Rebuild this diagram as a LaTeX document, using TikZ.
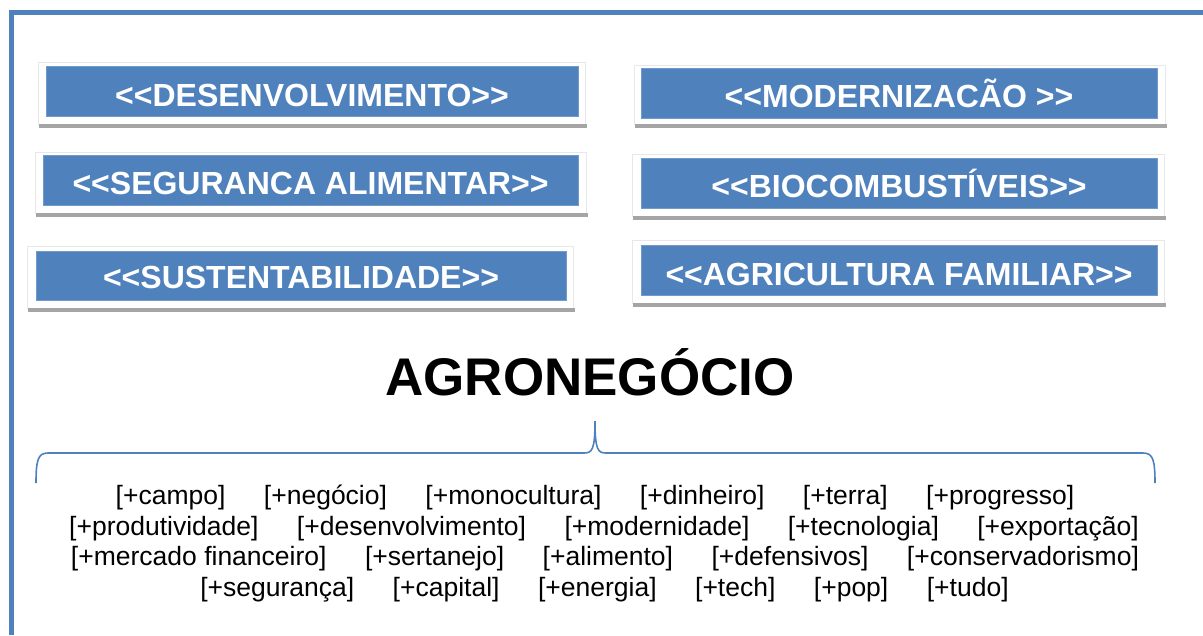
\documentclass[tikz,border=0pt]{standalone}
\usepackage{fontspec}
\usepackage{graphicx}
\newfontfamily\arialf{Liberation Sans}
\definecolor{officeblue}{HTML}{4F81BD}
\definecolor{shadowgray}{HTML}{A5A5A5}
\definecolor{edgegray}{HTML}{E8E8E8}
\tikzset{
  outerbox/.style={draw=edgegray, line width=0.8pt, fill=white, inner sep=0pt},
  bluebox/.style={fill=officeblue, draw=officeblue!80!white, line width=0.6pt, inner sep=0pt, text=white, align=center, font=\arialf\bfseries\fontsize{32pt}{32pt}\selectfont},
  itemrow/.style={anchor=base, inner sep=0pt, font=\arialf\fontsize{26.5pt}{30.4pt}\selectfont},
  bracestyle/.style={draw=officeblue, line width=1.6pt},
  framestyle/.style={draw=officeblue, line width=5pt}
}
\begin{document}
\begin{tikzpicture}[x=1pt,y=-1pt]
\useasboundingbox (0,0) rectangle (1203,635);
% frame
\draw[framestyle] (9,12.5) -- (1203,12.5);
\draw[framestyle] (11.5,10) -- (11.5,635);

% outer boxes with shadows
\node[outerbox, minimum width=547pt, minimum height=62pt] (o1) at (311.5,93) {};
\node[outerbox, minimum width=551pt, minimum height=61pt] (o2) at (310.5,182.5) {};
\node[outerbox, minimum width=546pt, minimum height=62pt] (o3) at (300,277) {};
\node[outerbox, minimum width=531pt, minimum height=59pt] (o4) at (899.5,94.5) {};
\node[outerbox, minimum width=532pt, minimum height=62pt] (o5) at (898,185) {};
\node[outerbox, minimum width=532pt, minimum height=63pt] (o6) at (898,271.5) {};
\foreach \o in {o1,o2,o3,o4,o5,o6}{
  \fill[shadowgray] ([xshift=1pt]\o.south west) rectangle ([xshift=1.5pt,yshift=-4pt]\o.south east);
}

% blue boxes
\node[bluebox, minimum width=532pt, text height=40pt, text depth=10pt] (b1) at (312,91) {<{}<DESENVOLVIMENTO>{}>};
\node[bluebox, minimum width=535pt, text height=39pt, text depth=11pt] (b2) at (310.5,180) {<{}<SEGURANCA ALIMENTAR>{}>};
\node[bluebox, minimum width=530pt, text height=37pt, text depth=12pt] (b3) at (301,275.5) {<{}<SUSTENTABILIDADE>{}>};
\node[bluebox, minimum width=516pt, text height=39pt, text depth=11pt] (b4) at (899,93) {<{}<MODERNIZACÃO >{}>};
\node[bluebox, minimum width=516pt, text height=39pt, text depth=11pt] (b5) at (899,183) {<{}<BIOCOMBUSTÍVEIS>{}>};
\node[bluebox, minimum width=516pt, text height=40pt, text depth=10pt] (b6) at (899,270) {<{}<AGRICULTURA FAMILIAR>{}>};

% title
\node[anchor=base, inner sep=0pt, font=\arialf\bfseries\fontsize{53pt}{53pt}\selectfont] (title) at (590,395) {AGRONEGÓCIO};

% brace
\draw[bracestyle] (36,483) .. controls (36,460) and (38,453) .. (48,453) -- (584,453)
  .. controls (592,453) and (595,450) .. (595,421)
  .. controls (595,450) and (598,453) .. (606,453) -- (1143,453)
  .. controls (1153,453) and (1155,460) .. (1155,483);

% item rows
\node[itemrow] (r1) at (595,504.5) {[+campo]\hspace{38.5pt}[+negócio]\hspace{38.5pt}[+monocultura]\hspace{38.5pt}[+dinheiro]\hspace{38.5pt}[+terra]\hspace{38.5pt}[+progresso]};
\node[itemrow] (r2) at (604,535) {[+produtividade]\hspace{38.5pt}[+desenvolvimento]\hspace{38.5pt}[+modernidade]\hspace{38.5pt}[+tecnologia]\hspace{38.5pt}[+exportação]};
\node[itemrow] (r3) at (605,565.5) {[+mercado financeiro]\hspace{38.5pt}[+sertanejo]\hspace{38.5pt}[+alimento]\hspace{38.5pt}[+defensivos]\hspace{38.5pt}[+conservadorismo]};
\node[itemrow] (r4) at (604.5,596) {[+segurança]\hspace{38.5pt}[+capital]\hspace{38.5pt}[+energia]\hspace{38.5pt}[+tech]\hspace{38.5pt}[+pop]\hspace{38.5pt}[+tudo]};
\end{tikzpicture}
\end{document}
